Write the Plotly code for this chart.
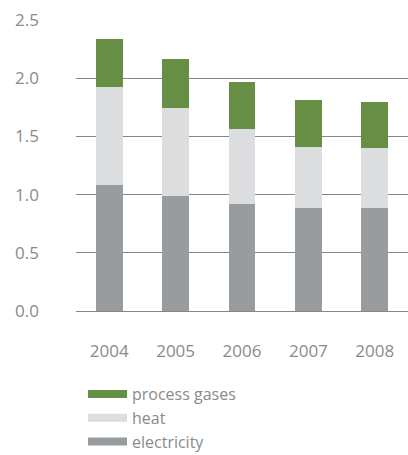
import plotly.graph_objects as go

years = ["2004", "2005", "2006", "2007", "2008"]
electricity = [1.085, 0.99, 0.92, 0.885, 0.885]
heat = [0.84, 0.755, 0.645, 0.525, 0.515]
process_gases = [0.415, 0.42, 0.40, 0.40, 0.395]

series = [
    ("electricity", electricity, "#999c9f"),
    ("heat", heat, "#dcdddf"),
    ("process gases", process_gases, "#668f45"),
]

FONT = "Open Sans"
TEXT = "#8a8a8a"
W, H = 408, 455

fig = go.Figure()
for name, vals, color in series:
    fig.add_trace(go.Bar(x=years, y=vals, name=name, marker_color=color,
                         marker_line_width=0, showlegend=False))

# wide swatches in the legend, listed top to bottom
for name, vals, color in reversed(series):
    fig.add_trace(go.Scatter(x=[None], y=[None], mode="lines", name=name,
                             line=dict(color=color, width=8)))

fig.update_layout(
    width=W, height=H,
    margin=dict(l=76, r=0, t=20, b=144, autoexpand=False),
    barmode="stack", bargap=0.595,
    plot_bgcolor="white", paper_bgcolor="white",
    font=dict(family=FONT, size=17, color=TEXT),
    legend=dict(xref="container", yref="container",
                x=83 / W, y=1 - 377 / H, xanchor="left", yanchor="top",
                traceorder="normal", font=dict(size=16, color=TEXT),
                itemwidth=39, bgcolor="rgba(0,0,0,0)"),
    xaxis=dict(showgrid=False, showline=False, ticks="", automargin=False,
               ticklabelstandoff=28, fixedrange=True),
    yaxis=dict(range=[0, 2.5], tickvals=[0, 0.5, 1.0, 1.5, 2.0, 2.5],
               tickformat=".1f", showgrid=True, gridcolor="#868686",
               gridwidth=1.3, zeroline=True, zerolinecolor="#868686",
               zerolinewidth=1.3, showline=False, ticks="", automargin=False,
               ticklabelstandoff=36),
)

fig.write_html("out.html")
